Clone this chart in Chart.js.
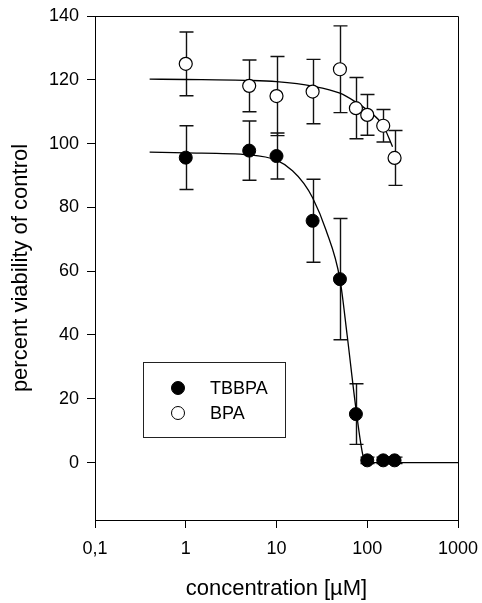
<!DOCTYPE html>
<html>
<head>
<meta charset="utf-8">
<script src="https://cdn.jsdelivr.net/npm/chart.js@4.4.1/dist/chart.umd.min.js"></script>
<style>
  body { margin: 0; background: #fff; }
  #wrap { width: 482px; height: 603px; position: relative; }
</style>
</head>
<body>
<div id="wrap"><canvas id="myChart"></canvas></div>
<script>
// concentrations in µM
const concentrations = [1, 5, 10, 25, 50, 75, 100, 150, 200];

const tbbpaMean = [95.6, 97.8, 96.1, 75.8, 57.5, 15.2, 0.7, 0.7, 0.7];
const tbbpaSD   = [10.0, 9.3, 7.2, 13.0, 19.0, 9.5, 1.0, 1.0, 1.0];

const bpaMean = [125.0, 118.1, 114.9, 116.3, 123.3, 111.1, 109.0, 105.6, 95.5];
const bpaSD   = [10.0, 8.1, 12.4, 10.1, 13.6, 9.6, 6.4, 5.1, 8.6];

// fitted curves
const tbbpaFitX = [0.4, 1, 5, 10, 15, 20, 25, 35, 50, 60, 75, 90, 100, 1000];
const tbbpaFitY = [97.3, 97.1, 96.5, 94.8, 91.5, 87.5, 83.0, 73.0, 57.5, 40.0, 17.0, 2.0, 0, 0];

const bpaFitX = [0.4, 1, 5, 10, 25, 50, 75, 100, 150, 190];
const bpaFitY = [120.2, 120.1, 119.8, 119.4, 118.0, 115.8, 113.0, 110.5, 105.6, 99.0];

const xTicks = [0.1, 1, 10, 100, 1000];
const xTickLabels = ['0,1', '1', '10', '100', '1000'];
const yTicks = [0, 20, 40, 60, 80, 100, 120, 140];

const FONT = 'Arial, "Liberation Sans", sans-serif';

const toPoints = (xs, ys) => xs.map((x, i) => ({ x: x, y: ys[i] }));

const errorBars = {
  id: 'errorBars',
  beforeDatasetsDraw(chart) {
    const { ctx, chartArea, scales: { x, y } } = chart;
    ctx.save();
    // frame: top and right
    ctx.strokeStyle = '#000';
    ctx.lineWidth = 1;
    ctx.beginPath();
    ctx.moveTo(chartArea.left, chartArea.top + 0.5);
    ctx.lineTo(chartArea.right + 0.5, chartArea.top + 0.5);
    ctx.lineTo(chartArea.right + 0.5, chartArea.bottom);
    ctx.stroke();

    ctx.strokeStyle = '#111';
    ctx.lineWidth = 1.4;
    const sets = [[bpaMean, bpaSD], [tbbpaMean, tbbpaSD]];
    sets.forEach(([mean, sd]) => {
      concentrations.forEach((c, i) => {
        const px = Math.round(x.getPixelForValue(c)) + 0.5;
        const top = y.getPixelForValue(mean[i] + sd[i]);
        const bot = y.getPixelForValue(mean[i] - sd[i]);
        ctx.beginPath();
        ctx.moveTo(px, top); ctx.lineTo(px, bot);
        ctx.moveTo(px - 7, top); ctx.lineTo(px + 7, top);
        ctx.moveTo(px - 7, bot); ctx.lineTo(px + 7, bot);
        ctx.stroke();
      });
    });
    ctx.restore();
  }
};

const boxLegend = {
  id: 'boxLegend',
  afterDraw(chart) {
    const ctx = chart.ctx;
    ctx.save();
    ctx.strokeStyle = '#222';
    ctx.lineWidth = 1;
    ctx.strokeRect(143.5, 362.5, 142, 75);
    const items = [
      { label: 'TBBPA', ds: chart.data.datasets[0], y: 388 },
      { label: 'BPA', ds: chart.data.datasets[1], y: 413 }
    ];
    items.forEach(it => {
      ctx.beginPath();
      ctx.arc(178, it.y, it.ds.pointRadius, 0, Math.PI * 2);
      ctx.fillStyle = it.ds.pointBackgroundColor;
      ctx.fill();
      ctx.lineWidth = 1;
      ctx.strokeStyle = '#000';
      ctx.stroke();
      ctx.fillStyle = '#000';
      ctx.font = '18px ' + FONT;
      ctx.textBaseline = 'middle';
      ctx.fillText(it.label, 210, it.y + 1);
    });
    ctx.restore();
  }
};

new Chart(document.getElementById('myChart'), {
  type: 'scatter',
  data: {
    datasets: [
      {
        label: 'TBBPA',
        data: toPoints(concentrations, tbbpaMean),
        pointRadius: 6.5,
        pointBackgroundColor: '#000',
        pointBorderColor: '#000',
        pointBorderWidth: 1,
        showLine: false,
        order: 0
      },
      {
        label: 'BPA',
        data: toPoints(concentrations, bpaMean),
        pointRadius: 6.5,
        pointBackgroundColor: '#fff',
        pointBorderColor: '#000',
        pointBorderWidth: 1.2,
        showLine: false,
        order: 0
      },
      {
        label: 'TBBPA fit',
        data: toPoints(tbbpaFitX, tbbpaFitY),
        showLine: true,
        pointRadius: 0,
        borderColor: '#000',
        borderWidth: 1.3,
        cubicInterpolationMode: 'monotone',
        order: 1
      },
      {
        label: 'BPA fit',
        data: toPoints(bpaFitX, bpaFitY),
        showLine: true,
        pointRadius: 0,
        borderColor: '#000',
        borderWidth: 1.3,
        cubicInterpolationMode: 'monotone',
        order: 1
      }
    ]
  },
  options: {
    responsive: true,
    maintainAspectRatio: false,
    animation: false,
    layout: { padding: { left: 0, right: 24, top: 16, bottom: 0 } },
    plugins: {
      legend: { display: false },
      tooltip: { enabled: false }
    },
    scales: {
      x: {
        type: 'logarithmic',
        min: 0.1,
        max: 1000,
        afterBuildTicks: (scale) => { scale.ticks = xTicks.map(v => ({ value: v })); },
        afterFit: (scale) => {
          scale.height = 83;
          scale.paddingLeft = 0;
          scale.paddingRight = 0;
        },
        ticks: {
          color: '#000',
          font: { family: FONT, size: 18 },
          padding: 10,
          maxRotation: 0,
          autoSkip: false,
          callback: (v) => xTickLabels[xTicks.indexOf(v)]
        },
        grid: { drawOnChartArea: false, drawTicks: true, tickLength: 8, color: '#000' },
        border: { color: '#000', width: 1 },
        title: {
          display: true,
          text: 'concentration [µM]',
          color: '#000',
          font: { family: FONT, size: 22 },
          padding: 1
        }
      },
      y: {
        min: -18,
        max: 140,
        afterBuildTicks: (scale) => { scale.ticks = yTicks.map(v => ({ value: v })); },
        afterFit: (scale) => {
          scale.width = 95;
          scale.paddingTop = 0;
          scale.paddingBottom = 0;
        },
        ticks: {
          color: '#000',
          font: { family: FONT, size: 18 },
          padding: 8
        },
        grid: { drawOnChartArea: false, drawTicks: true, tickLength: 8, color: '#000' },
        border: { color: '#000', width: 1 },
        title: {
          display: true,
          text: 'percent viability of control',
          color: '#000',
          font: { family: FONT, size: 22 },
          padding: 8
        }
      }
    }
  },
  plugins: [errorBars, boxLegend]
});
</script>
</body>
</html>
